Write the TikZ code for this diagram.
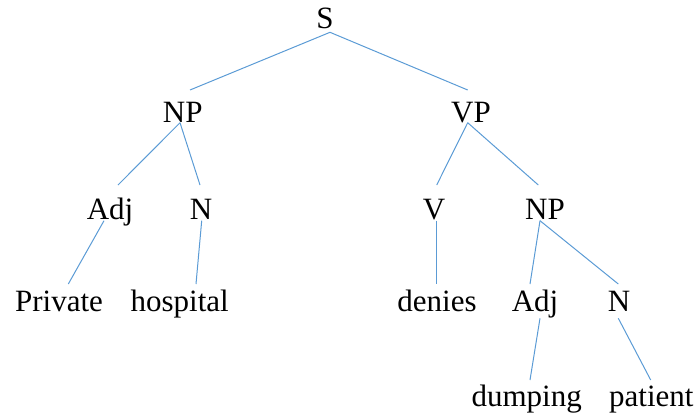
\documentclass[tikz,border=0pt]{standalone}
\usepackage{fontspec}
\setmainfont{Liberation Serif}
\definecolor{edgeblue}{RGB}{91,155,213}
\begin{document}
\begin{tikzpicture}[x=1pt,y=-1pt,
  word/.style={anchor=base,inner sep=0pt,font=\fontsize{31}{31}\selectfont},
  edge/.style={draw=edgeblue,line width=1pt}]
\useasboundingbox (0,0) rectangle (696,416);
% labels, placed by their baselines
\node[word] (S)    at (325,28)    {S};
\node[word] (NPa)  at (182.7,122.7) {NP};
\node[word] (VP)   at (471,122.7) {VP};
\node[word] (AdjA) at (110,219)   {Adj};
\node[word] (NA)   at (201,219)   {N};
\node[word] (V)    at (434,219)   {V};
\node[word] (NPb)  at (545,219)   {NP};
\node[word] (priv) at (59,311.7)  {Private};
\node[word] (hosp) at (179.7,311.7) {hospital};
\node[word] (den)  at (437,311.7) {denies};
\node[word] (AdjB) at (535,311.7) {Adj};
\node[word] (NB)   at (619,311.7) {N};
\node[word] (dump) at (526.7,406.7) {dumping};
\node[word] (pat)  at (651.3,406.7) {patient};
% branches
\draw[edge] ([xshift=5pt,yshift=-4.3pt]S.base) -- ([xshift=7.3pt,yshift=32.7pt]NPa.base);
\draw[edge] ([xshift=5pt,yshift=-4.3pt]S.base) -- ([xshift=-3.3pt,yshift=32.7pt]VP.base);
\draw[edge] ([xshift=-2.7pt]NPa.base) -- ([xshift=8pt,yshift=34pt]AdjA.base);
\draw[edge] ([xshift=-2.7pt]NPa.base) -- ([xshift=-1pt,yshift=34pt]NA.base);
\draw[edge] ([xshift=-3.3pt]VP.base) -- ([xshift=2.7pt,yshift=34pt]V.base);
\draw[edge] ([xshift=-3.3pt]VP.base) -- ([xshift=-6.7pt,yshift=34pt]NPb.base);
\draw[edge] ([xshift=-6pt,yshift=-1.7pt]AdjA.base) -- ([xshift=9.3pt,yshift=27.7pt]priv.base);
\draw[edge] ([xshift=0.7pt,yshift=-1.7pt]NA.base) -- ([xshift=16.3pt,yshift=27.7pt]hosp.base);
\draw[edge] ([xshift=2pt,yshift=-1.7pt]V.base) -- ([xshift=-1pt,yshift=27.7pt]den.base);
\draw[edge] ([xshift=-5pt,yshift=-1.7pt]NPb.base) -- ([xshift=-5pt,yshift=27.7pt]AdjB.base);
\draw[edge] ([xshift=-5pt,yshift=-1.7pt]NPb.base) -- ([xshift=-0.7pt,yshift=27.7pt]NB.base);
\draw[edge] ([xshift=5pt,yshift=-6.6pt]AdjB.base) -- ([xshift=3.3pt,yshift=26.7pt]dump.base);
\draw[edge] ([xshift=-0.7pt,yshift=-6.6pt]NB.base) -- ([xshift=-0.6pt,yshift=26.7pt]pat.base);
\end{tikzpicture}
\end{document}
